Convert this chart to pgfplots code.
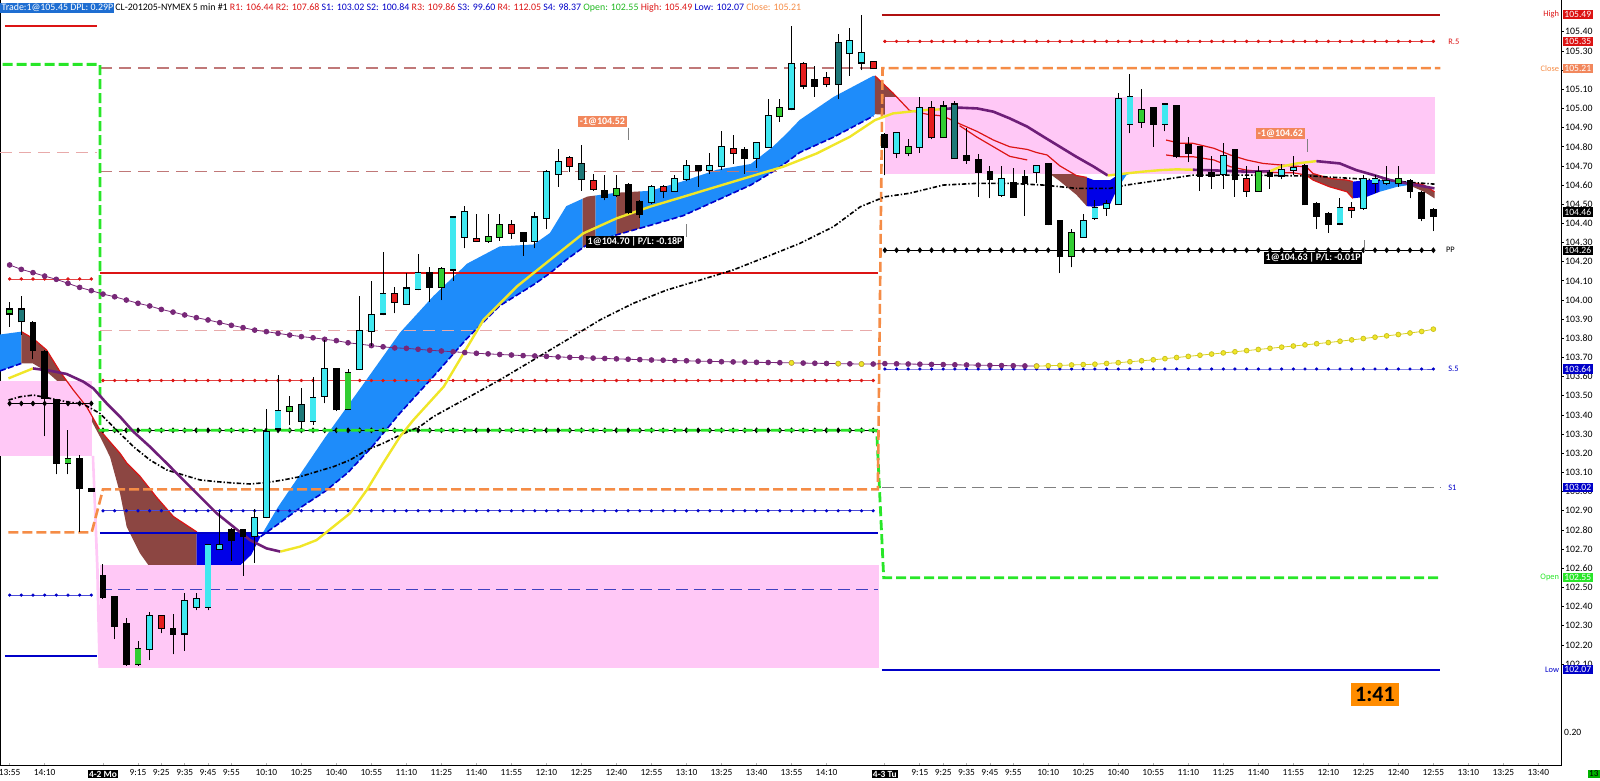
\documentclass[border=0pt]{standalone}
\usepackage{fontspec}
\setmainfont{Carlito}
\usepackage{pgfplots}
\pgfplotsset{compat=1.18}
\usepackage{pgfplotstable}
\usepgfplotslibrary{fillbetween}
\setlength{\fboxsep}{0.6pt}
\newcommand\fs[1]{\fontsize{#1}{#1}\selectfont}
\definecolor{cCyan}{RGB}{64,232,240}
\definecolor{cTeal}{RGB}{30,120,120}
\definecolor{cGreen}{RGB}{50,205,50}
\definecolor{cRed}{RGB}{228,30,30}
\definecolor{bandLB}{RGB}{30,140,250}
\definecolor{bandBR}{RGB}{140,70,66}
\definecolor{bandDB}{RGB}{0,0,232}
\definecolor{maPurple}{RGB}{110,30,120}
\definecolor{maYellow}{RGB}{240,230,40}
\definecolor{dotPurple}{RGB}{120,40,120}
\definecolor{pinkBox}{RGB}{255,200,246}
\definecolor{lvRed}{RGB}{220,20,20}
\definecolor{lvOrange}{RGB}{245,140,70}
\definecolor{lvGreen}{RGB}{40,230,40}
\definecolor{lvBlue}{RGB}{0,0,200}
\definecolor{lvPink}{RGB}{232,170,170}
\definecolor{lvBrown}{RGB}{192,120,120}
\definecolor{hdrBlue}{RGB}{30,110,210}
\definecolor{salmon1}{RGB}{242,135,92}
\definecolor{boxOrange}{RGB}{255,140,0}

% candles: i, body low, body high, low, high
\pgfplotstableread{
i lo hi L H
4 102.18 102.35 102.12 102.37
7 102.26 102.43 102.17 102.47
8 102.40 102.44 102.38 102.47
9 102.40 102.72 102.38 102.72
10 102.70 102.72 102.70 102.90
13 102.77 102.86 102.63 102.91
14 102.87 103.31 102.86 103.43
15 103.33 103.42 103.32 103.61
18 103.37 103.49 103.35 103.60
19 103.50 103.64 103.46 103.79
22 103.64 103.84 103.64 104.02
23 103.84 103.92 103.76 104.10
24 103.93 104.03 103.92 104.25
26 103.98 104.06 103.98 104.14
27 104.06 104.14 104.05 104.24
30 104.16 104.43 104.10 104.43
31 104.33 104.46 104.27 104.49
37 104.31 104.43 104.27 104.46
38 104.43 104.67 104.37 104.68
39 104.66 104.72 104.59 104.79
47 104.51 104.59 104.50 104.60
49 104.57 104.63 104.57 104.65
50 104.63 104.70 104.62 104.73
52 104.68 104.70 104.66 104.77
53 104.70 104.80 104.68 104.88
56 104.74 104.82 104.69 104.82
57 104.80 104.96 104.80 105.05
59 105.00 105.23 104.99 105.43
64 105.29 105.35 105.17 105.42
65 105.24 105.29 105.20 105.49
68 104.77 104.87 104.74 104.87
70 104.80 105.00 104.77 105.06
77 104.55 104.63 104.54 104.70
80 104.67 104.70 104.61 104.70
84 104.33 104.41 104.33 104.45
85 104.43 104.48 104.42 104.52
86 104.48 104.50 104.44 104.52
87 104.50 105.05 104.50 105.08
88 104.92 105.06 104.87 105.18
91 104.92 105.02 104.88 105.02
96 104.66 104.75 104.58 104.82
101 104.65 104.68 104.63 104.71
102 104.68 104.69 104.65 104.75
106 104.40 104.48 104.39 104.53
108 104.48 104.63 104.47 104.65
109 104.61 104.63 104.56 104.65
110 104.61 104.62 104.60 104.70
}\candCyan
\pgfplotstableread{
i lo hi L H
-6 103.74 103.88 103.69 103.89
-5 103.49 103.73 103.29 103.74
-4 103.15 103.48 103.09 103.48
-2 103.02 103.17 102.79 103.19
-1 103.005 103.015 103.005 103.015
0 102.45 102.56 102.44 102.62
1 102.30 102.45 102.23 102.45
2 102.10 102.31 102.09 102.34
6 102.26 102.28 102.15 102.36
11 102.75 102.80 102.64 102.81
12 102.77 102.80 102.56 102.80
20 103.43 103.64 103.42 103.64
28 104.07 104.14 103.99 104.17
36 104.31 104.35 104.23 104.35
43 104.54 104.57 104.52 104.65
45 104.46 104.60 104.45 104.61
46 104.45 104.51 104.43 104.52
51 104.68 104.70 104.59 104.70
55 104.74 104.78 104.66 104.80
61 105.12 105.15 105.06 105.22
67 104.80 104.86 104.65 104.87
74 104.73 104.75 104.71 104.90
75 104.67 104.73 104.54 104.76
76 104.63 104.67 104.53 104.70
78 104.54 104.61 104.54 104.69
79 104.61 104.64 104.44 104.68
81 104.40 104.71 104.39 104.71
82 104.23 104.41 104.14 104.42
90 104.92 105.00 104.80 105.00
92 104.75 105.01 104.74 105.02
93 104.77 104.81 104.72 104.85
94 104.65 104.80 104.57 104.80
95 104.65 104.66 104.58 104.75
97 104.63 104.78 104.54 104.78
100 104.65 104.66 104.58 104.68
103 104.50 104.70 104.50 104.71
104 104.44 104.50 104.37 104.51
105 104.40 104.45 104.35 104.46
112 104.57 104.62 104.53 104.63
113 104.43 104.56 104.41 104.57
114 104.44 104.47 104.36 104.48
}\candBlack
\pgfplotstableread{
i lo hi L H
-8 103.93 103.95 103.86 103.99
-3 103.15 103.17 103.09 103.32
3 102.10 102.18 102.09 102.22
16 103.42 103.44 103.35 103.50
21 103.43 103.62 103.43 103.64
29 104.07 104.16 104.00 104.17
33 104.31 104.33 104.30 104.45
34 104.33 104.39 104.31 104.45
44 104.55 104.58 104.54 104.65
58 104.96 105.00 104.93 105.05
69 104.77 104.80 104.75 104.84
72 104.85 105.01 104.85 105.04
83 104.23 104.35 104.17 104.37
89 104.93 104.99 104.90 105.10
99 104.57 104.67 104.57 104.70
111 104.61 104.63 104.59 104.70
}\candGreen
\pgfplotstableread{
i lo hi L H
5 102.29 102.35 102.26 102.35
25 103.99 104.03 103.93 104.07
32 104.31 104.32 104.31 104.45
35 104.35 104.39 104.32 104.42
40 104.70 104.74 104.67 104.75
42 104.58 104.62 104.57 104.66
48 104.57 104.59 104.53 104.60
54 104.77 104.79 104.71 104.86
60 105.12 105.23 105.10 105.24
62 105.13 105.16 105.11 105.19
66 105.21 105.24 105.21 105.25
71 104.85 105.00 104.84 105.04
98 104.57 104.63 104.54 104.70
107 104.47 104.48 104.43 104.51
}\candRed
\pgfplotstableread{
i lo hi L H
-7 103.89 103.95 103.82 104.02
17 103.37 103.45 103.33 103.54
41 104.63 104.71 104.57 104.81
63 105.13 105.34 105.05 105.39
73 104.74 105.02 104.74 105.04
}\candTeal

% moving-average ribbon: top and bottom lines
\pgfplotstableread{
i t b
-8.83 103.82 103.63
-7.0 103.835 103.669
-6.0 103.80 103.669
-4.83 103.739 103.626
-3.68 103.626 103.565
-2.54 103.530 103.495
-1.4 103.443 103.417
-0.26 103.321 103.287
0.6 103.26 103.182
1.46 103.20 102.991
2.03 103.15 102.817
3.17 103.08 102.678
4.6 102.97 102.556
6.03 102.87 102.452
8.03 102.79 102.443
9.0 102.785 102.49
10.3 102.785 102.55
11.5 102.785 102.60
12.7 102.78 102.67
13.2 102.775 102.73
13.5 102.765 102.765
15 102.92 102.83
17 103.10 102.92
19 103.28 103.00
21 103.45 103.10
23 103.62 103.23
25.45 103.83 103.41
28.3 104.02 103.60
31.2 104.19 103.80
34 104.28 103.97
36.9 104.29 104.08
38.3 104.35 104.14
39.7 104.49 104.21
41.5 104.54 104.29
44 104.56 104.34
46.9 104.57 104.39
49.7 104.62 104.44
52.6 104.68 104.52
55.5 104.71 104.60
57.4 104.80 104.67
58.6 104.87 104.72
59.7 104.94 104.77
62.6 105.06 104.85
66 105.17 104.96
66.15 105.17 104.97
67.7 105.08 104.966
69.1 104.99 104.94
70.6 104.97 104.92
72.0 104.96 104.93
73.4 104.92 104.91
74.9 104.88 104.85
76.3 104.835 104.80
77.7 104.80 104.75
79.2 104.786 104.731
80.0 104.77 104.70
80.9 104.757 104.67
82.0 104.70 104.62
83.4 104.65 104.55
84.3 104.64 104.49
84.9 104.626 104.487
86.3 104.626 104.50
86.9 104.65 104.58
87.7 104.696 104.652
89.1 104.74 104.687
90.6 104.80 104.74
91.1 104.835 104.757
92.3 104.818 104.748
93.4 104.818 104.748
95.2 104.792 104.731
96.6 104.757 104.696
98.0 104.731 104.678
99.4 104.713 104.67
100.9 104.705 104.664
102.0 104.699 104.664
103.1 104.696 104.652
103.7 104.66 104.626
105.1 104.635 104.591
106.6 104.626 104.565
107.1 104.618 104.531
108.3 104.626 104.539
109.4 104.626 104.565
110.9 104.626 104.591
111.9 104.618 104.60
113.2 104.60 104.565
114.1 104.565 104.531
}\band

% big dotted line
\pgfplotstableread{
i p
-8 104.183
-7 104.160
-6 104.143
-5 104.125
-4 104.108
-3 104.087
-2 104.066
-1 104.049
0 104.031
1 104.017
2 104.000
3 103.983
4 103.969
5 103.951
6 103.937
7 103.922
8 103.908
9 103.896
10 103.882
11 103.868
12 103.856
13 103.843
14 103.835
15 103.826
16 103.817
17 103.809
18 103.803
19 103.795
20 103.788
21 103.777
22 103.770
23 103.762
24 103.756
25 103.750
26 103.748
27 103.743
28 103.738
29 103.734
30 103.730
31 103.726
32 103.722
33 103.719
34 103.716
35 103.713
36 103.710
37 103.708
38 103.706
39 103.703
40 103.701
41 103.699
42 103.697
43 103.695
44 103.693
45 103.691
46 103.689
47 103.687
48 103.686
49 103.684
50 103.683
51 103.681
52 103.680
53 103.678
54 103.677
55 103.676
56 103.675
57 103.674
58 103.673
59 103.672
60 103.671
61 103.670
62 103.669
63 103.668
64 103.667
65 103.666
66 103.666
67 103.668
68 103.667
69 103.666
70 103.665
71 103.664
72 103.663
73 103.662
74 103.661
75 103.660
76 103.659
77 103.658
78 103.657
79 103.656
80 103.655
}\dotsP
\pgfplotstableread{
i p
80 103.655
81 103.657
82 103.659
83 103.661
84 103.663
85 103.665
86 103.669
87 103.673
88 103.678
89 103.683
90 103.688
91 103.694
92 103.700
93 103.706
94 103.712
95 103.718
96 103.724
97 103.730
98 103.736
99 103.742
100 103.748
101 103.754
102 103.760
103 103.766
104 103.772
105 103.778
106 103.785
107 103.792
108 103.799
109 103.806
110 103.813
111 103.820
112 103.828
113 103.836
114 103.848
}\dotsY

% dotted pivot levels (red dots, blue dots, black diamonds), one row per bar
\pgfplotstableread{
i r b k
-8 104.11 102.46 103.46
-7 104.11 102.46 103.46
-6 104.11 102.46 103.46
-5 104.11 102.46 103.46
-4 104.11 102.46 103.46
-3 104.11 102.46 103.46
-2 104.11 102.46 103.46
-1 104.11 102.46 103.46
-0.5 nan nan nan
0 103.58 102.90 103.32
1 103.58 102.90 103.32
2 103.58 102.90 103.32
3 103.58 102.90 103.32
4 103.58 102.90 103.32
5 103.58 102.90 103.32
6 103.58 102.90 103.32
7 103.58 102.90 103.32
8 103.58 102.90 103.32
9 103.58 102.90 103.32
10 103.58 102.90 103.32
11 103.58 102.90 103.32
12 103.58 102.90 103.32
13 103.58 102.90 103.32
14 103.58 102.90 103.32
15 103.58 102.90 103.32
16 103.58 102.90 103.32
17 103.58 102.90 103.32
18 103.58 102.90 103.32
19 103.58 102.90 103.32
20 103.58 102.90 103.32
21 103.58 102.90 103.32
22 103.58 102.90 103.32
23 103.58 102.90 103.32
24 103.58 102.90 103.32
25 103.58 102.90 103.32
26 103.58 102.90 103.32
27 103.58 102.90 103.32
28 103.58 102.90 103.32
29 103.58 102.90 103.32
30 103.58 102.90 103.32
31 103.58 102.90 103.32
32 103.58 102.90 103.32
33 103.58 102.90 103.32
34 103.58 102.90 103.32
35 103.58 102.90 103.32
36 103.58 102.90 103.32
37 103.58 102.90 103.32
38 103.58 102.90 103.32
39 103.58 102.90 103.32
40 103.58 102.90 103.32
41 103.58 102.90 103.32
42 103.58 102.90 103.32
43 103.58 102.90 103.32
44 103.58 102.90 103.32
45 103.58 102.90 103.32
46 103.58 102.90 103.32
47 103.58 102.90 103.32
48 103.58 102.90 103.32
49 103.58 102.90 103.32
50 103.58 102.90 103.32
51 103.58 102.90 103.32
52 103.58 102.90 103.32
53 103.58 102.90 103.32
54 103.58 102.90 103.32
55 103.58 102.90 103.32
56 103.58 102.90 103.32
57 103.58 102.90 103.32
58 103.58 102.90 103.32
59 103.58 102.90 103.32
60 103.58 102.90 103.32
61 103.58 102.90 103.32
62 103.58 102.90 103.32
63 103.58 102.90 103.32
64 103.58 102.90 103.32
65 103.58 102.90 103.32
66 103.58 102.90 103.32
66.5 nan nan nan
67 105.35 103.64 104.26
68 105.35 103.64 104.26
69 105.35 103.64 104.26
70 105.35 103.64 104.26
71 105.35 103.64 104.26
72 105.35 103.64 104.26
73 105.35 103.64 104.26
74 105.35 103.64 104.26
75 105.35 103.64 104.26
76 105.35 103.64 104.26
77 105.35 103.64 104.26
78 105.35 103.64 104.26
79 105.35 103.64 104.26
80 105.35 103.64 104.26
81 105.35 103.64 104.26
82 105.35 103.64 104.26
83 105.35 103.64 104.26
84 105.35 103.64 104.26
85 105.35 103.64 104.26
86 105.35 103.64 104.26
87 105.35 103.64 104.26
88 105.35 103.64 104.26
89 105.35 103.64 104.26
90 105.35 103.64 104.26
91 105.35 103.64 104.26
92 105.35 103.64 104.26
93 105.35 103.64 104.26
94 105.35 103.64 104.26
95 105.35 103.64 104.26
96 105.35 103.64 104.26
97 105.35 103.64 104.26
98 105.35 103.64 104.26
99 105.35 103.64 104.26
100 105.35 103.64 104.26
101 105.35 103.64 104.26
102 105.35 103.64 104.26
103 105.35 103.64 104.26
104 105.35 103.64 104.26
105 105.35 103.64 104.26
106 105.35 103.64 104.26
107 105.35 103.64 104.26
108 105.35 103.64 104.26
109 105.35 103.64 104.26
110 105.35 103.64 104.26
111 105.35 103.64 104.26
112 105.35 103.64 104.26
113 105.35 103.64 104.26
114 105.35 103.64 104.26
}\lvdots

\pgfplotsset{
  nomk/.style={only marks, mark=*, mark size=0pt, mark options={draw=none, fill=none}, forget plot},
  wick/.style={nomk, error bars/.cd, y dir=plus, y explicit, error mark=none, error bar style={line width=0.5pt, black}},
  bodyo/.style={nomk, error bars/.cd, y dir=plus, y explicit, error mark=none, error bar style={line width=3.4pt, black}},
  bodyf/.style={nomk, error bars/.cd, y dir=plus, y explicit, error mark=none, error bar style={line width=2.6pt, #1}},
}
\tikzset{
  rbox/.style={anchor=west, inner sep=0.7pt, text=white, font=\fs{4.8}, xshift=0.8pt},
  rlab/.style={font=\fs{4.2}, inner sep=0.3pt},
  tbox/.style={text=white, font=\fs{5}\bfseries, inner sep=0.8pt},
}

\newcommand\candles[2]{%
  \addplot[wick] table[x=i, y=L, y error plus expr=\thisrow{H}-\thisrow{L}] {#1};
  \addplot[bodyo] table[x=i, y expr=\thisrow{lo}-0.006, y error plus expr=\thisrow{hi}-\thisrow{lo}+0.012] {#1};
  \addplot[bodyf=#2] table[x=i, y=lo, y error plus expr=\thisrow{hi}-\thisrow{lo}] {#1};
}

\begin{document}
\begin{tikzpicture}
\begin{axis}[
  at={(0,0)}, anchor=south west,
  scale only axis, width=780.5pt, height=383pt,
  xmin=-8.826, xmax=124.94, ymin=101.568, ymax=105.566,
  clip mode=individual,
  axis line style={black, line width=0.5pt},
  ytick pos=right, yticklabel pos=right,
  xtick pos=left,
  ytick={102.1,102.2,102.3,102.4,102.5,102.6,102.7,102.8,102.9,103,103.1,103.2,103.3,103.4,103.5,103.6,103.7,103.8,103.9,104,104.1,104.2,104.3,104.4,104.5,104.6,104.7,104.8,104.9,105,105.1,105.2,105.3,105.4},
  /pgf/number format/fixed, /pgf/number format/fixed zerofill, /pgf/number format/precision=2,
  /pgf/number format/assume math mode=true,
  yticklabel style={font=\fs{4.9}, inner sep=0.6pt},
  ytick align=outside, xtick align=inside, major tick length=1.3pt,
  ytick style={black, line width=0.4pt}, xtick style={gray!60, line width=0.4pt},
  xtick={-8,-5,0,3,5,7,9,11,14,17,20,23,26,29,32,35,38,41,44,47,50,53,56,59,62,67,70,72,74,76,78,81,84,87,90,93,96,99,102,105,108,111,114,117,120,123},
  xticklabels={13:55,14:10,{\colorbox{black}{\textcolor{white}{\bfseries 4-2 Mo}}},9:15,9:25,9:35,9:45,9:55,10:10,10:25,10:40,10:55,11:10,11:25,11:40,11:55,12:10,12:25,12:40,12:55,13:10,13:25,13:40,13:55,14:10,{\colorbox{black}{\textcolor{white}{\bfseries 4-3 Tu}}},9:15,9:25,9:35,9:45,9:55,10:10,10:25,10:40,10:55,11:10,11:25,11:40,11:55,12:10,12:25,12:40,12:55,13:10,13:25,13:40},
  xticklabel style={font=\fs{4.7}, inner sep=0.5pt, yshift=-1.2pt},
  unbounded coords=jump,
]
% pink value-area boxes
\addplot[fill=pinkBox, draw=none, forget plot] coordinates {(-8.83,103.577) (-0.97,103.577) (-0.97,103.186) (-8.83,103.186)};
\addplot[fill=pinkBox, draw=none, forget plot] coordinates {(-0.97,103.186) (-0.75,103.186) (-0.3,102.5) (-0.2,102.08) (-0.4,102.08) (-0.6,102.6)};
\addplot[fill=pinkBox, draw=none, forget plot] coordinates {(-0.26,102.617) (66.5,102.617) (66.5,102.08) (-0.26,102.08)};
\addplot[fill=pinkBox, draw=none, forget plot] coordinates {(67,105.061) (114.1,105.061) (114.1,104.657) (67,104.657)};

% ribbon
\addplot[draw=none, name path=bt, forget plot] table[x=i,y=t]{\band};
\addplot[draw=none, name path=bb, forget plot] table[x=i,y=b]{\band};
\addplot[fill=bandLB, draw=none] fill between[of=bt and bb, soft clip={domain=-8.83:-7}];
\addplot[fill=bandLB, draw=none] fill between[of=bt and bb, soft clip={domain=13.5:41.1}];
\addplot[fill=bandLB, draw=none] fill between[of=bt and bb, soft clip={domain=42.2:44}];
\addplot[fill=bandLB, draw=none] fill between[of=bt and bb, soft clip={domain=46:66.15}];
\addplot[fill=bandLB, draw=none] fill between[of=bt and bb, soft clip={domain=69.1:70.1}];
\addplot[fill=bandLB, draw=none] fill between[of=bt and bb, soft clip={domain=71.4:72.6}];
\addplot[fill=bandLB, draw=none] fill between[of=bt and bb, soft clip={domain=86.9:91.1}];
\addplot[fill=bandLB, draw=none] fill between[of=bt and bb, soft clip={domain=109.4:111.9}];
\addplot[fill=bandBR, draw=none] fill between[of=bt and bb, soft clip={domain=-7:8.03}];
\addplot[fill=bandBR, draw=none] fill between[of=bt and bb, soft clip={domain=41.1:42.2}];
\addplot[fill=bandBR, draw=none] fill between[of=bt and bb, soft clip={domain=44:46}];
\addplot[fill=bandBR, draw=none] fill between[of=bt and bb, soft clip={domain=66.15:69.1}];
\addplot[fill=bandBR, draw=none] fill between[of=bt and bb, soft clip={domain=70.1:71.4}];
\addplot[fill=bandBR, draw=none] fill between[of=bt and bb, soft clip={domain=72.6:79.2}];
\addplot[fill=bandBR, draw=none] fill between[of=bt and bb, soft clip={domain=80:84.3}];
\addplot[fill=bandBR, draw=none] fill between[of=bt and bb, soft clip={domain=91.1:107.1}];
\addplot[fill=bandBR, draw=none] fill between[of=bt and bb, soft clip={domain=111.9:114.1}];
\addplot[fill=bandDB, draw=none] fill between[of=bt and bb, soft clip={domain=8.03:13.5}];
\addplot[fill=bandDB, draw=none] fill between[of=bt and bb, soft clip={domain=79.2:80}];
\addplot[fill=bandDB, draw=none] fill between[of=bt and bb, soft clip={domain=84.3:86.9}];
\addplot[fill=bandDB, draw=none] fill between[of=bt and bb, soft clip={domain=107.1:109.4}];
% ribbon edges
\addplot[lvRed, line width=0.6pt, restrict x to domain=-7:8.03, forget plot] table[x=i,y=t]{\band};
\addplot[lvRed, line width=0.6pt, restrict x to domain=66.15:84.3, forget plot] table[x=i,y=t]{\band};
\addplot[lvRed, line width=0.6pt, restrict x to domain=91.1:107.1, forget plot] table[x=i,y=t]{\band};
\addplot[lvRed, line width=0.6pt, restrict x to domain=72.6:79.2, forget plot] table[x=i,y=b]{\band};
\addplot[lvRed, line width=0.6pt, restrict x to domain=91.1:107.1, forget plot] table[x=i,y=b]{\band};
\addplot[lvRed, line width=0.6pt, restrict x to domain=111.9:114.1, forget plot] table[x=i,y=t]{\band};
\addplot[blue!80!black, line width=0.8pt, dash pattern=on 3pt off 1.2pt, restrict x to domain=13.5:66, forget plot] table[x=i,y=b]{\band};
\addplot[blue!80!black, line width=0.8pt, dash pattern=on 3pt off 1.2pt, restrict x to domain=-8.83:-7, forget plot] table[x=i,y=b]{\band};

% ---- level lines ----
\addplot[lvRed, line width=1pt] coordinates {(-8.4,105.43) (-0.5,105.43)};
\addplot[lvRed, line width=1pt] coordinates {(-0.26,104.14) (66.4,104.14)};
\addplot[lvRed!80!black, line width=1pt] coordinates {(66.75,105.49) (114.6,105.49)};
\addplot[lvPink, line width=0.8pt, dash pattern=on 6pt off 3.5pt] coordinates {(-8.83,104.77) (-0.5,104.77)};
\addplot[lvPink, line width=0.8pt, dash pattern=on 6pt off 3.5pt] coordinates {(-0.26,103.84) (66.4,103.84)};
\addplot[lvBrown, line width=0.8pt, dash pattern=on 6pt off 3.5pt] coordinates {(-0.26,105.21) (66.4,105.21)};
\addplot[lvBrown, line width=0.8pt, dash pattern=on 6pt off 3.5pt] coordinates {(-0.26,104.67) (66.4,104.67)};
\addplot[blue!50!gray, line width=0.5pt, dash pattern=on 6pt off 3pt] coordinates {(-0.26,102.49) (66.4,102.49)};
\addplot[gray, line width=0.5pt, dash pattern=on 6pt off 3pt] coordinates {(66.75,103.02) (114.6,103.02)};
\addplot[lvBlue, line width=1pt] coordinates {(-8.4,102.14) (-0.5,102.14)};
\addplot[lvBlue, line width=1pt] coordinates {(-0.26,102.785) (66.4,102.785)};
\addplot[lvBlue, line width=1pt] coordinates {(66.75,102.07) (114.6,102.07)};
% dotted levels
\addplot[lvRed!80, line width=0.3pt, mark=*, mark size=0.7pt, mark options={fill=lvRed, draw=lvRed}] table[x=i,y=r]{\lvdots};
\addplot[lvBlue!70, line width=0.3pt, mark=*, mark size=0.65pt, mark options={fill=lvBlue, draw=lvBlue}] table[x=i,y=b]{\lvdots};
\addplot[black, line width=0.35pt, mark=diamond*, mark size=1.2pt] table[x=i,y=k]{\lvdots};
% step dashed levels
\addplot[lvGreen, line width=1.4pt, dash pattern=on 5pt off 2pt] coordinates {(-8.6,105.23) (-0.26,105.23) (-0.26,103.32) (66.3,103.32) (66.9,102.55) (114.6,102.55)};
\addplot[lvOrange, line width=1.3pt, dash pattern=on 5pt off 2pt] coordinates {(-8.1,102.787) (-0.97,102.787) (0.0,103.012) (66.4,103.012) (66.8,105.21) (114.6,105.21)};

% ---- moving averages ----
\addplot[black, line width=0.8pt, dash pattern=on 2.2pt off 1pt on 0.7pt off 1pt] coordinates {
(-8.1,103.478) (-7.1,103.495) (-5.97,103.504) (-4.54,103.487) (-3.12,103.469) (-1.69,103.457) (-0.26,103.408) (1.17,103.321) (2.6,103.235) (4.03,103.165) (5.46,103.113) (6.88,103.087) (8.31,103.061) (9.74,103.052) (11.17,103.045) (12.6,103.04) (14.0,103.047) (15.45,103.061) (16.88,103.078) (18.3,103.104) (19.74,103.13) (21.17,103.165) (22.6,103.217) (24.0,103.252) (25.45,103.295) (27.16,103.34) (28.3,103.391) (31.16,103.487) (34.0,103.583) (36.87,103.687) (39.73,103.791) (42.59,103.896) (45.45,103.983) (48.3,104.052) (51.16,104.104) (54.0,104.157) (56.87,104.226) (59.73,104.296) (62.6,104.383) (64.9,104.487) (67.0,104.539) (69.1,104.557) (72.0,104.60) (74.9,104.609) (77.7,104.609) (80.6,104.60) (83.4,104.583) (86.3,104.583) (87.7,104.60) (90.6,104.626) (93.4,104.652) (98.0,104.652) (103.7,104.647) (109.4,104.626) (114.1,104.605)};
\addplot[maYellow, line width=1.2pt] coordinates {(-8.1,103.591) (-6.0,103.643)};
\addplot[maPurple, line width=1.3pt] coordinates {(-6.0,103.643) (-4.54,103.631) (-3.12,103.614) (-1.69,103.574) (-0.83,103.539) (0.31,103.461) (1.46,103.391) (2.6,103.313) (4.03,103.234) (5.46,103.148) (6.88,103.061) (8.31,102.974) (9.74,102.887) (11.17,102.817) (12.6,102.747) (14.0,102.704) (15.2,102.687)};
\addplot[maYellow, line width=1.2pt] coordinates {(15.2,102.687) (16.88,102.713) (18.3,102.747) (19.74,102.817) (21.17,102.887) (22.6,103.008) (24.0,103.148) (25.45,103.287) (26.6,103.374) (29.2,103.548) (32.6,103.896) (35.45,104.07) (38.3,104.209) (41.16,104.348) (44.0,104.426) (46.87,104.487) (49.73,104.539) (52.6,104.592) (55.45,104.644) (58.3,104.696) (61.16,104.765) (64.0,104.852) (66.15,104.939) (67.7,104.974) (69.1,104.983) (70.6,104.992) (71.7,104.995)};
\addplot[maPurple, line width=1.3pt] coordinates {(71.7,104.995) (73.4,105.004) (74.9,105.0) (76.3,104.983) (77.7,104.948) (79.2,104.905) (80.6,104.852) (82.0,104.80) (83.4,104.748) (84.9,104.696) (86.1,104.65)};
\addplot[maYellow, line width=1.2pt] coordinates {(86.1,104.65) (87.7,104.661) (89.1,104.670) (90.6,104.678) (92.0,104.682) (93.4,104.68)};
\addplot[maPurple, line width=1.3pt] coordinates {(93.4,104.68) (96,104.675) (98,104.67) (100,104.672)};
\addplot[maYellow, line width=1.2pt] coordinates {(100,104.672) (100.9,104.696) (102.3,104.713) (103.98,104.725)};
\addplot[maPurple, line width=1.3pt] coordinates {(103.98,104.725) (105.98,104.713) (107.4,104.678) (108.9,104.652) (110.3,104.626) (111.7,104.609) (114.1,104.583)};

% ---- big dots ----
\addplot[dotPurple, line width=0.4pt, mark=*, mark size=1.2pt] table[x=i,y=p]{\dotsP};
\addplot[maYellow!90!black, line width=0.4pt, mark=*, mark size=1.2pt, mark options={fill=maYellow, draw=maYellow!85!black}] table[x=i,y=p]{\dotsY};
\addplot[only marks, mark=*, mark size=1.2pt, mark options={fill=maYellow, draw=maYellow!85!black}] coordinates {(59,103.672) (63,103.668) (65,103.666)};

% ---- candles ----
\candles{\candCyan}{cCyan}
\candles{\candBlack}{black}
\candles{\candGreen}{cGreen}
\candles{\candRed}{cRed}
\candles{\candTeal}{cTeal}

% ---- trade markers ----
\addplot[gray, line width=0.3pt] coordinates {(45.0,104.90) (45.0,104.835)};
\addplot[gray, line width=0.3pt] coordinates {(50.0,104.33) (50.0,104.395)};
\addplot[gray, line width=0.3pt] coordinates {(103.2,104.84) (103.2,104.772)};
\addplot[gray, line width=0.3pt] coordinates {(108.1,104.25) (108.1,104.313)};
\node[tbox, fill=salmon1] at (axis cs:42.8,104.93) {-1@104.52};
\node[tbox, fill=black] at (axis cs:45.6,104.305) {1@104.70\,|\,P/L: -0.18P};
\node[tbox, fill=salmon1] at (axis cs:100.9,104.869) {-1@104.62};
\node[tbox, fill=black] at (axis cs:103.7,104.22) {1@104.63\,|\,P/L: -0.01P};
\node[fill=boxOrange, text=black, font=\fs{11}\bfseries, inner sep=2.2pt] at (axis cs:109,101.94) {1:41};

% ---- header ----
\node[anchor=north west, inner sep=0pt, font=\fs{4.95}] at (rel axis cs:0,0.997) {\colorbox{hdrBlue}{\textcolor{white}{Trade:1@105.45 DPL: 0.29P}}\hspace{0.5pt}CL-201205-NYMEX 5 min \#1 \textcolor{lvRed}{R1: 106.44} \textcolor{lvRed}{R2: 107.68} \textcolor{lvBlue}{S1: 103.02} \textcolor{lvBlue}{S2: 100.84} \textcolor{lvRed}{R3: 109.86} \textcolor{lvBlue}{S3: 99.60} \textcolor{lvRed}{R4: 112.05} \textcolor{lvBlue}{S4: 98.37} \textcolor{lvGreen!80!black}{Open: 102.55} \textcolor{lvRed}{High: 105.49} \textcolor{lvBlue}{Low: 102.07} \textcolor{lvOrange}{Close: 105.21}};

% ---- level names ----
\node[rlab, anchor=west, text=lvRed] at (axis cs:115.2,105.35) {R.5};
\node[rlab, anchor=west, text=black] at (axis cs:115.0,104.26) {PP};
\node[rlab, anchor=west, text=lvBlue] at (axis cs:115.2,103.64) {S.5};
\node[rlab, anchor=west, text=lvBlue] at (axis cs:115.2,103.02) {S1};
\node[rlab, anchor=east, text=lvRed, xshift=-0.5pt] at (axis cs:124.94,105.49) {High};
\node[rlab, anchor=east, text=lvOrange, xshift=-0.5pt] at (axis cs:124.94,105.21) {Close};
\node[rlab, anchor=east, text=lvGreen, xshift=-0.5pt] at (axis cs:124.94,102.55) {Open};
\node[rlab, anchor=east, text=lvBlue, xshift=-0.5pt] at (axis cs:124.94,102.07) {Low};

% ---- price boxes on the right scale ----
\node[rbox, fill=lvRed] at (axis cs:124.94,105.49) {105.49};
\node[rbox, fill=lvRed] at (axis cs:124.94,105.35) {105.35};
\node[rbox, fill=salmon1] at (axis cs:124.94,105.21) {105.21};
\node[rbox, fill=black] at (axis cs:124.94,104.46) {104.46};
\node[rbox, fill=black] at (axis cs:124.94,104.26) {104.26};
\node[rbox, fill=lvBlue] at (axis cs:124.94,103.64) {103.64};
\node[rbox, fill=lvBlue] at (axis cs:124.94,103.02) {103.02};
\node[rbox, fill=lvGreen] at (axis cs:124.94,102.55) {102.55};
\node[rbox, fill=lvBlue] at (axis cs:124.94,102.07) {102.07};
\node[anchor=west, font=\fs{4.8}, inner sep=0.6pt, xshift=0.8pt] at (axis cs:124.94,101.745) {0.20};
\node[anchor=west, font=\fs{4.6}, fill=green!70!black, inner sep=0.7pt, xshift=13.2pt, yshift=-4pt] at (rel axis cs:1,0) {13};
\end{axis}
\pgfresetboundingbox
\path[use as bounding box] (0,-7.5pt) rectangle (800pt,383pt);
\end{tikzpicture}
\end{document}
